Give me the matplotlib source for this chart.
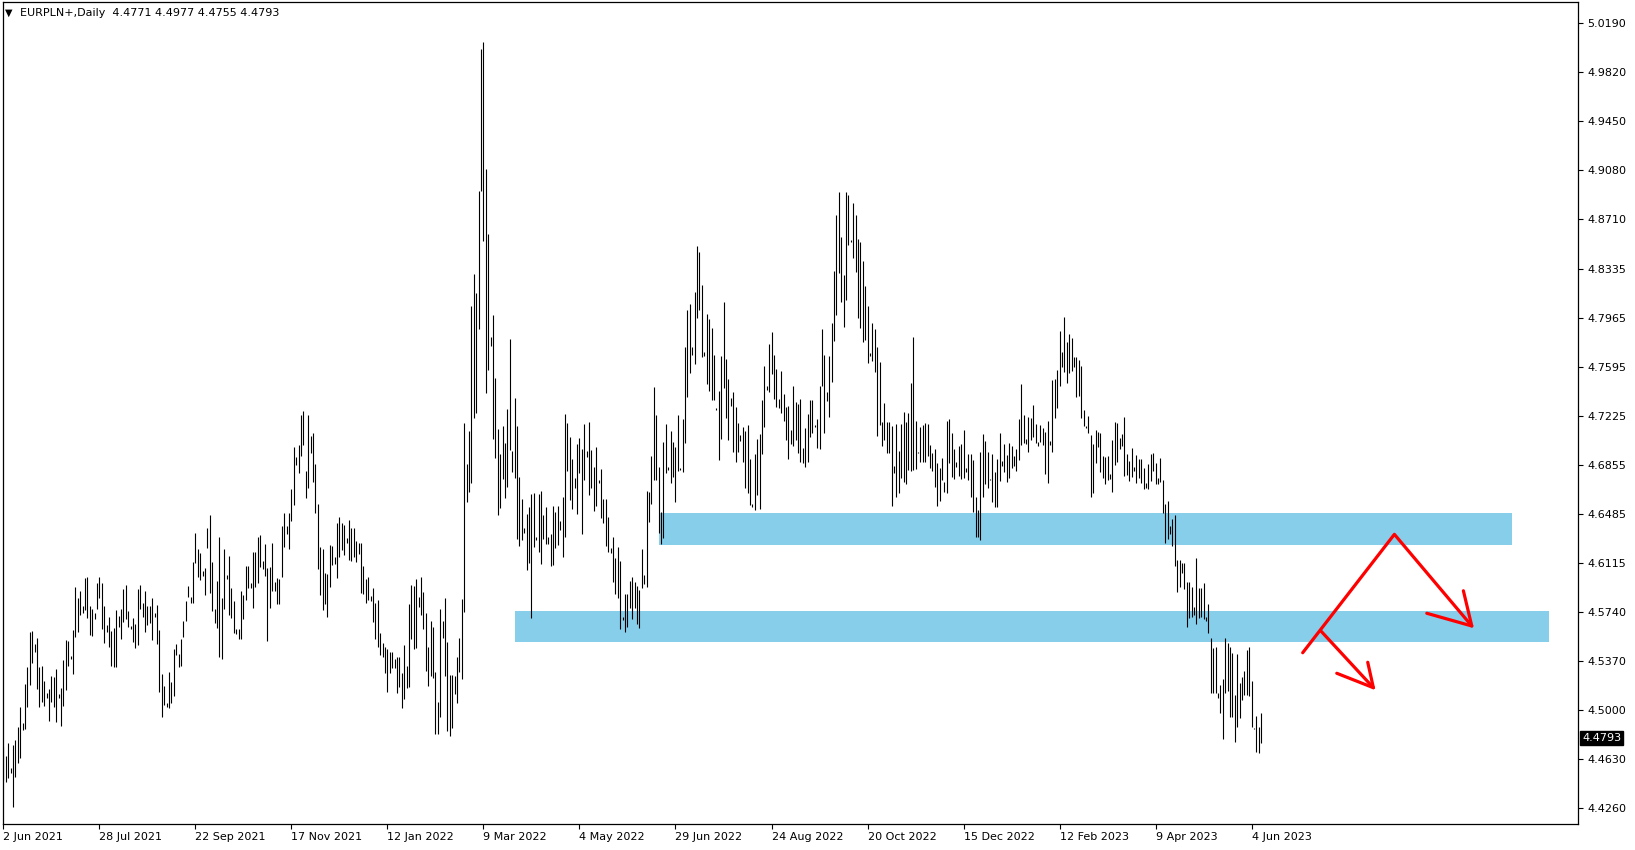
import numpy as np
import matplotlib
matplotlib.use("Agg")
import matplotlib.pyplot as plt
from matplotlib.patches import Rectangle
from matplotlib.transforms import blended_transform_factory

# daily EURPLN bars (high / low per bar)
highs = [
    # Jun 2021 - Oct 2021
    4.4725, 4.4655, 4.4750, 4.4562, 4.4738, 4.4776, 4.4876, 4.5027, 4.4902, 4.5199,
    4.5324, 4.5594, 4.5601, 4.5498, 4.5543, 4.5329, 4.5334, 4.5221, 4.5133, 4.5158,
    4.5261, 4.5254, 4.5312, 4.5123, 4.5171, 4.5380, 4.5531, 4.5523, 4.5413, 4.5606,
    4.5933, 4.5850, 4.5903, 4.5788, 4.5999, 4.6009, 4.5788, 4.5762, 4.5737, 4.5964,
    4.6009, 4.5964, 4.5788, 4.5644, 4.5702, 4.5601, 4.5624, 4.5757, 4.5712, 4.5767,
    4.5913, 4.5946, 4.5750, 4.5637, 4.5694, 4.5649, 4.5916, 4.5946, 4.5808, 4.5903,
    4.5790, 4.5788, 4.5845, 4.5737, 4.5798, 4.5606, 4.5274, 4.5186, 4.5053, 4.5287,
    4.5214, 4.5465, 4.5498, 4.5423, 4.5538, 4.5677, 4.5825, 4.5939, 4.5853, 4.6122,
    4.6339, 4.6218, 4.6185, 4.6052, 4.6072, 4.6379, 4.6475, 4.6117, 4.5765, 4.5976,
    4.6306,
    # Oct 2021 - Feb 2022
    4.5845, 4.6218, 4.6022, 4.6165, 4.5921, 4.5825, 4.5616, 4.5611, 4.5901, 4.5871,
    4.6090, 4.6090, 4.5964, 4.6195, 4.6195, 4.6311, 4.6324, 4.6127, 4.6253, 4.6072,
    4.6085, 4.6263, 4.5971, 4.5996, 4.5991, 4.6394, 4.6490, 4.6392, 4.6487, 4.6671,
    4.6991, 4.6915, 4.7003, 4.7230, 4.7260, 4.6809, 4.7230, 4.7071, 4.7091, 4.6860,
    4.6558, 4.6236, 4.6218, 4.6034, 4.6029, 4.6248, 4.6243, 4.6160, 4.6417, 4.6462,
    4.6412, 4.6402, 4.6303, 4.6437, 4.6377, 4.6379, 4.6278, 4.6261, 4.6266, 4.6092,
    4.5991, 4.6009, 4.5863, 4.5921, 4.5813, 4.5833, 4.5581, 4.5511, 4.5480, 4.5460,
    4.5443, 4.5443, 4.5390, 4.5405, 4.5405, 4.5279, 4.5493, 4.5334, 4.5803, 4.5946,
    4.5939, 4.5991, 4.5858, 4.6009, 4.5893, 4.5737, 4.5480, 4.5677, 4.5632, 4.5287,
    4.5065, 4.5767,
    # Feb 2022 - Apr 2022
    4.5674, 4.5850, 4.5515, 4.5268, 4.5268, 4.5261, 4.5402, 4.5544, 4.5840, 4.7173,
    4.6863, 4.7110, 4.8055, 4.8295, 4.8154, 4.8920, 4.9996, 5.0049, 4.9089, 4.8595,
    4.7819, 4.7985, 4.7509, 4.7121, 4.6934, 4.7145, 4.7015, 4.7272, 4.7801, 4.6955,
    4.7357, 4.7145, 4.6761, 4.6598, 4.6380, 4.6485, 4.6538, 4.6634, 4.6644, 4.6309,
    4.6637, 4.6655, 4.6478, 4.6538, 4.6309, 4.6334, 4.6545, 4.6496, 4.6545, 4.6426,
    4.6609, 4.7237, 4.7173, 4.7061,
    # Apr 2022 - Aug 2022
    4.6897, 4.6756, 4.7011, 4.7053, 4.6970, 4.7162, 4.6960, 4.7177, 4.6965, 4.6837,
    4.6985, 4.6739, 4.6822, 4.6595, 4.6595, 4.6459, 4.6223, 4.6311, 4.6152, 4.6233,
    4.6130, 4.5707, 4.5878, 4.5878, 4.5979, 4.6006, 4.5966, 4.5938, 4.5908, 4.6218,
    4.6021, 4.6656, 4.6646, 4.6920, 4.7438, 4.7230, 4.6837, 4.6495, 4.7026, 4.7162,
    4.6837, 4.7109, 4.7023, 4.6988, 4.7230, 4.6829, 4.7197, 4.7743, 4.8022, 4.8068,
    4.7743, 4.8158, 4.8506, 4.8460, 4.8211, 4.7703, 4.7992, 4.7954, 4.7887, 4.7683,
    4.7285, 4.7408, 4.7675, 4.8083, 4.7652, 4.7501, 4.7358, 4.7403, 4.7290, 4.7169,
    4.7079, 4.7139, 4.7109, 4.7154, 4.6897, 4.6558, 4.6935, 4.7048, 4.7086,
    # Aug 2022 - Dec 2022
    4.7343, 4.7600, 4.7449, 4.7766, 4.7859, 4.7683, 4.7577, 4.7351, 4.7562, 4.7389,
    4.7293, 4.7298, 4.7117, 4.7449, 4.7331, 4.7313, 4.7351, 4.6978, 4.7134, 4.7238,
    4.7343, 4.7343, 4.7155, 4.7200, 4.7449, 4.7879, 4.7683, 4.7406, 4.7676, 4.7922,
    4.8317, 4.8740, 4.8914, 4.8574, 4.8287, 4.8914, 4.8891, 4.8551, 4.8831, 4.8740,
    4.8559, 4.8536, 4.8395, 4.8204, 4.8053, 4.7701, 4.7925, 4.7879, 4.7743, 4.7630,
    4.7180, 4.7323, 4.7180, 4.7180, 4.7147, 4.6847, 4.7162, 4.6958, 4.7162, 4.7253,
    4.7180, 4.7243, 4.7472, 4.7822, 4.7185, 4.6951, 4.7142, 4.7155, 4.7172, 4.7162,
    4.7003, 4.6946, 4.6973, 4.6865, 4.6827, 4.6908, 4.6727, 4.7185, 4.7200, 4.7092,
    4.6973, 4.6875, 4.6996, 4.7011, 4.7117, 4.6832, 4.6936, 4.6936, 4.6890, 4.6613,
    4.6513, 4.6953,
    # Dec 2022 - Jun 2023
    4.7086, 4.7033, 4.6953, 4.6746, 4.6935, 4.6802, 4.6897, 4.7091, 4.6885, 4.7011,
    4.6928, 4.7021, 4.6996, 4.6923, 4.6970, 4.7199, 4.7464, 4.7230, 4.7048, 4.7217,
    4.7210, 4.7305, 4.7162, 4.7023, 4.7154, 4.7134, 4.7104, 4.7187, 4.7033, 4.7494,
    4.7499, 4.7569, 4.7864, 4.7708, 4.7972, 4.7783, 4.7841, 4.7809, 4.7665, 4.7670,
    4.7645, 4.7602, 4.7267, 4.7147, 4.7222, 4.7079, 4.7011, 4.7116, 4.7104, 4.7096,
    4.6920, 4.6915, 4.6920, 4.6784, 4.7041, 4.7179, 4.7172, 4.7053, 4.7086, 4.7217,
    4.6935, 4.6882, 4.6983, 4.6835, 4.6928, 4.6895, 4.6897, 4.6832, 4.6714, 4.6857,
    4.6933, 4.6945, 4.6870, 4.6751, 4.6908, 4.6739, 4.6558, 4.6580, 4.6392, 4.6444,
    4.6475, 4.6135, 4.6135, 4.6115, 4.6115, 4.5971, 4.5971, 4.5933, 4.5782, 4.6152,
    4.5921, 4.5921, 4.5959, 4.5707, 4.5803, 4.5543, 4.5468, 4.5475, 4.5128, 4.5191,
    4.5234, 4.5543, 4.5505, 4.5480, 4.5435, 4.5115, 4.5425, 4.5209, 4.5254, 4.5299,
    4.5455, 4.5475, 4.5224, 4.4864, 4.4959, 4.4876, 4.4977,
]

lows = [
    4.4474, 4.4461, 4.4486, 4.4529, 4.4272, 4.4499, 4.4600, 4.4637, 4.4851, 4.4856,
    4.5027, 4.5191, 4.5355, 4.5443, 4.5158, 4.5027, 4.5065, 4.5035, 4.5095, 4.4922,
    4.5065, 4.5027, 4.4914, 4.5090, 4.4884, 4.5035, 4.5153, 4.5337, 4.5387, 4.5271,
    4.5551, 4.5589, 4.5720, 4.5732, 4.5757, 4.5694, 4.5569, 4.5564, 4.5687, 4.5762,
    4.5850, 4.5611, 4.5511, 4.5591, 4.5480, 4.5334, 4.5324, 4.5324, 4.5632, 4.5536,
    4.5667, 4.5689, 4.5632, 4.5611, 4.5518, 4.5468, 4.5493, 4.5767, 4.5707, 4.5589,
    4.5644, 4.5657, 4.5528, 4.5702, 4.5498, 4.5136, 4.4952, 4.5040, 4.5027, 4.5015,
    4.5058, 4.5108, 4.5418, 4.5324, 4.5337, 4.5551, 4.5677, 4.5853, 4.5813, 4.5813,
    4.6115, 4.6004, 4.5984, 4.6014, 4.5871, 4.6228, 4.5883, 4.5750, 4.5657, 4.5619,
    4.5405,

    4.5385, 4.5767, 4.5991, 4.5720, 4.5699, 4.5581, 4.5574, 4.5541, 4.5541, 4.5687,
    4.5833, 4.5926, 4.5926, 4.5775, 4.5934, 4.5964, 4.6079, 4.6067, 4.6014, 4.5526,
    4.5775, 4.5901, 4.5901, 4.5800, 4.5800, 4.6009, 4.6236, 4.6329, 4.6215, 4.6432,
    4.6553, 4.6852, 4.6794, 4.6920, 4.7003, 4.6606, 4.6681, 4.6945, 4.6726, 4.6492,
    4.6069, 4.5868, 4.5757, 4.5800, 4.5707, 4.5934, 4.6097, 4.6102, 4.6001, 4.6160,
    4.6210, 4.6173, 4.6261, 4.6135, 4.6127, 4.6160, 4.6122, 4.6180, 4.5888, 4.5876,
    4.5808, 4.5833, 4.5828, 4.5669, 4.5541, 4.5480, 4.5418, 4.5405, 4.5284, 4.5141,
    4.5284, 4.5322, 4.5322, 4.5128, 4.5173, 4.5015, 4.5083, 4.5166, 4.5173, 4.5541,
    4.5460, 4.5468, 4.5783, 4.5720, 4.5616, 4.5299, 4.5186, 4.5261, 4.5246, 4.4819,
    4.4819, 4.4947,

    4.5544, 4.5261, 4.4845, 4.4810, 4.4870, 4.5120, 4.5057, 4.5286, 4.5233, 4.5745,
    4.6574, 4.6651, 4.6715, 4.7209, 4.7244, 4.7879, 4.8920, 4.8542, 4.7396, 4.7572,
    4.7752, 4.7050, 4.6902, 4.6478, 4.6528, 4.6743, 4.6602, 4.6690, 4.6969, 4.6796,
    4.6757, 4.6291, 4.6239, 4.6284, 4.6337, 4.6062, 4.6115, 4.5699, 4.6232, 4.6284,
    4.6193, 4.6108, 4.6291, 4.6256, 4.6256, 4.6087, 4.6097, 4.6228, 4.6246, 4.6362,
    4.6157, 4.6309, 4.6810, 4.6591,

    4.6520, 4.6681, 4.6480, 4.6789, 4.6334, 4.6739, 4.6915, 4.6625, 4.6676, 4.6505,
    4.6545, 4.6719, 4.6454, 4.6412, 4.6243, 4.6198, 4.6190, 4.5971, 4.5878, 4.5850,
    4.5614, 4.5682, 4.5594, 4.5631, 4.5770, 4.5689, 4.5775, 4.5651, 4.5624, 4.5921,
    4.5953, 4.5933, 4.6424, 4.6558, 4.6739, 4.6739, 4.6336, 4.6253, 4.6303, 4.6794,
    4.6814, 4.6719, 4.6764, 4.6575, 4.6809, 4.6814, 4.6802, 4.7021, 4.7368, 4.7549,
    4.7683, 4.7615, 4.7965, 4.8022, 4.7670, 4.7675, 4.7466, 4.7413, 4.7345, 4.7345,
    4.7267, 4.6892, 4.7051, 4.7436, 4.7209, 4.7041, 4.7298, 4.6948, 4.6877, 4.6953,
    4.7036, 4.6877, 4.6678, 4.6643, 4.6550, 4.6532, 4.6512, 4.6623, 4.6522,

    4.6936, 4.7142, 4.7419, 4.7406, 4.7540, 4.7351, 4.7293, 4.7285, 4.7248, 4.7187,
    4.7041, 4.6898, 4.7011, 4.6998, 4.7041, 4.6946, 4.6873, 4.6865, 4.6840, 4.6878,
    4.7066, 4.7092, 4.7142, 4.6978, 4.6973, 4.7449, 4.7097, 4.7338, 4.7217, 4.7482,
    4.7791, 4.7985, 4.8305, 4.8081, 4.7897, 4.8098, 4.8514, 4.8539, 4.8418, 4.8312,
    4.7965, 4.7889, 4.7784, 4.7796, 4.7620, 4.7678, 4.7640, 4.7557, 4.7071, 4.7155,
    4.6996, 4.7041, 4.6946, 4.6946, 4.6545, 4.6790, 4.6613, 4.6639, 4.6757, 4.6727,
    4.6707, 4.6817, 4.6807, 4.6815, 4.6825, 4.6941, 4.6875, 4.6875, 4.6878, 4.6923,
    4.6832, 4.6810, 4.6689, 4.6543, 4.6583, 4.6739, 4.6646, 4.6644, 4.6865, 4.6759,
    4.6744, 4.6840, 4.6772, 4.6747, 4.6752, 4.6802, 4.6739, 4.6613, 4.6500, 4.6311,
    4.6311, 4.6286,

    4.6613, 4.6706, 4.6681, 4.6739, 4.6570, 4.6537, 4.6532, 4.6734, 4.6847, 4.6802,
    4.6726, 4.6752, 4.6827, 4.6847, 4.6809, 4.6890, 4.7003, 4.7016, 4.7011, 4.6953,
    4.7041, 4.7066, 4.7016, 4.6998, 4.7028, 4.7003, 4.6782, 4.6719, 4.7003, 4.6953,
    4.7210, 4.7280, 4.7451, 4.7595, 4.7552, 4.7469, 4.7544, 4.7562, 4.7595, 4.7368,
    4.7376, 4.7204, 4.7149, 4.7134, 4.7096, 4.6608, 4.6638, 4.6865, 4.6991, 4.6797,
    4.6752, 4.6706, 4.6739, 4.6746, 4.6646, 4.6852, 4.6877, 4.6973, 4.6998, 4.6772,
    4.6777, 4.6734, 4.6764, 4.6809, 4.6714, 4.6752, 4.6719, 4.6671, 4.6676, 4.6671,
    4.6734, 4.6809, 4.6709, 4.6706, 4.6726, 4.6487, 4.6266, 4.6293, 4.6329, 4.6243,
    4.6092, 4.5891, 4.5933, 4.6034, 4.5918, 4.5631, 4.5694, 4.5707, 4.5720, 4.5651,
    4.5694, 4.5707, 4.5687, 4.5674, 4.5581, 4.5133, 4.5133, 4.5128, 4.5090, 4.4977,
    4.4781, 4.5128, 4.5148, 4.4952, 4.4952, 4.4758, 4.4876, 4.4939, 4.5078, 4.5115,
    4.5115, 4.5108, 4.4871, 4.4859, 4.4682, 4.4675, 4.4755,
]

date_labels = ["2 Jun 2021", "28 Jul 2021", "22 Sep 2021", "17 Nov 2021",
               "12 Jan 2022", "9 Mar 2022", "4 May 2022", "29 Jun 2022",
               "24 Aug 2022", "20 Oct 2022", "15 Dec 2022", "12 Feb 2023",
               "9 Apr 2023", "4 Jun 2023"]
price_labels = ["5.0190", "4.9820", "4.9450", "4.9080", "4.8710", "4.8335",
                "4.7965", "4.7595", "4.7225", "4.6855", "4.6485", "4.6115",
                "4.5740", "4.5370", "4.5000", "4.4630", "4.4260"]
last_ohlc = [4.4771, 4.4977, 4.4755, 4.4793]
zone_upper = [4.6249, 4.6493]
zone_lower = [4.5518, 4.5750]

W, H = 1635, 850
fig = plt.figure(figsize=(W / 100, H / 100), dpi=100)
ax = fig.add_axes([2.7 / W, 26 / H, (1578 - 2.7) / W, 822 / H])

bars = np.arange(len(highs))
ax.vlines(bars, lows, highs, color="black", lw=0.8, zorder=3)

sky = "#87CEEB"
ax.add_patch(Rectangle((273, zone_upper[0]), 355.5, zone_upper[1] - zone_upper[0],
                       facecolor=sky, edgecolor="none", zorder=1))
ax.add_patch(Rectangle((213, zone_lower[0]), 431, zone_lower[1] - zone_lower[0],
                       facecolor=sky, edgecolor="none", zorder=1))

# hand drawn red arrows
red = dict(color="red", lw=2.3, solid_capstyle="round", solid_joinstyle="round", zorder=4)
ax.plot([541.3, 579.5, 611.75], [4.5435, 4.6329, 4.5637], **red)
ax.plot([593.0, 611.75, 608.25], [4.5733, 4.5637, 4.5903], **red)
ax.plot([548.8, 570.75], [4.5601, 4.5171], **red)
ax.plot([555.5, 570.75, 568.4], [4.5280, 4.5171, 4.5363], **red)

ax.set_xlim(-0.3, 656)
ax.set_ylim(4.4142, 5.0348)

ax.yaxis.tick_right()
ax.set_yticks([float(p) for p in price_labels])
ax.set_yticklabels(price_labels)
ax.set_xticks(np.arange(len(date_labels)) * 40)
ax.set_xticklabels(date_labels, ha="left")
ax.tick_params(axis="both", direction="out", length=3.5, width=0.8,
               labelsize=8, colors="black", pad=2)
ax.tick_params(axis="y", pad=3)
for s in ax.spines.values():
    s.set_linewidth(0.9)
    s.set_color("black")

tr = blended_transform_factory(ax.transAxes, ax.transData)
ax.text(1.0 + 4 / 1576, last_ohlc[3], f"{last_ohlc[3]:.4f}", transform=tr,
        ha="left", va="center", fontsize=8, color="white",
        bbox=dict(boxstyle="square,pad=0.2", fc="black", ec="black"))

fig.text(5 / W, 1 - 12.5 / H, "\u25BC", fontsize=7, va="center", ha="left")
fig.text(20 / W, 1 - 12.5 / H,
         "EURPLN+,Daily  " + " ".join(f"{v:.4f}" for v in last_ohlc),
         fontsize=8, va="center", ha="left")

fig.savefig("out.png", dpi=100, facecolor="white")
